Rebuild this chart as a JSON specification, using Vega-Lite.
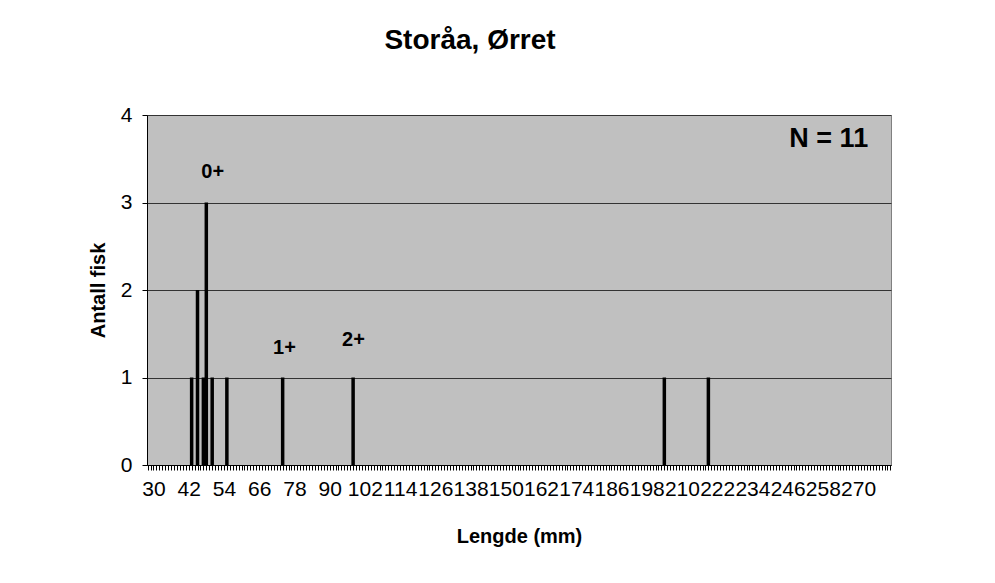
{
  "$schema": "https://vega.github.io/schema/vega-lite/v6.json",
  "width": 744,
  "height": 350,
  "autosize": {"type": "none"},
  "padding": {"left": 147, "top": 115, "right": 104, "bottom": 118},
  "background": "white",
  "config": {
    "font": "Liberation Sans",
    "view": {"fill": "#C0C0C0", "stroke": "#808080", "strokeWidth": 1}
  },
  "title": {
    "text": "Storåa, Ørret",
    "fontSize": 28,
    "fontWeight": "bold",
    "color": "black",
    "font": "Liberation Sans",
    "anchor": "middle",
    "frame": "group",
    "dx": -49,
    "offset": 49
  },
  "datasets": {
    "fish": [
      {"lengde": 43, "antall": 1},
      {"lengde": 45, "antall": 2},
      {"lengde": 47, "antall": 1},
      {"lengde": 48, "antall": 3},
      {"lengde": 50, "antall": 1},
      {"lengde": 55, "antall": 1},
      {"lengde": 74, "antall": 1},
      {"lengde": 98, "antall": 1},
      {"lengde": 204, "antall": 1},
      {"lengde": 219, "antall": 1}
    ],
    "ages": [
      {"x": 50.2, "y": 3.35, "label": "0+"},
      {"x": 74.6, "y": 1.34, "label": "1+"},
      {"x": 98.1, "y": 1.43, "label": "2+"}
    ],
    "count": [
      {"x": 260, "y": 3.73, "label": "N = 11"}
    ]
  },
  "layer": [
    {
      "data": {"name": "fish"},
      "mark": {"type": "bar", "width": 3.5, "color": "black"},
      "encoding": {
        "x": {
          "field": "lengde",
          "type": "quantitative",
          "scale": {"domain": [29.5, 279.5], "nice": false, "zero": false},
          "axis": {
            "title": "Lengde (mm)",
            "titleFontSize": 20,
            "titleFontWeight": "bold",
            "titleColor": "black",
            "titlePadding": 27,
            "tickCount": 250,
            "labelExpr": "(datum.value - 30) % 12 === 0 ? datum.label : ''",
            "labelOverlap": false,
            "labelBound": false,
            "labelFlush": false,
            "labelFontSize": 21,
            "labelColor": "black",
            "labelPadding": 8,
            "tickSize": 5,
            "tickColor": "black",
            "domainColor": "black",
            "grid": false
          }
        },
        "y": {
          "field": "antall",
          "type": "quantitative",
          "scale": {"domain": [0, 4], "nice": false},
          "axis": {
            "title": "Antall fisk",
            "titleFontSize": 20,
            "titleFontWeight": "bold",
            "titleColor": "black",
            "titlePadding": 12,
            "values": [0, 1, 2, 3, 4],
            "format": "d",
            "labelFontSize": 21,
            "labelColor": "black",
            "labelPadding": 10,
            "tickSize": 5,
            "tickColor": "black",
            "domainColor": "black",
            "grid": true,
            "gridColor": "#333333",
            "gridOpacity": 1,
            "gridWidth": 1
          }
        }
      }
    },
    {
      "data": {"name": "ages"},
      "mark": {"type": "text", "fontSize": 20, "fontWeight": "bold", "color": "black", "align": "center", "baseline": "middle"},
      "encoding": {
        "x": {"field": "x", "type": "quantitative"},
        "y": {"field": "y", "type": "quantitative"},
        "text": {"field": "label"}
      }
    },
    {
      "data": {"name": "count"},
      "mark": {"type": "text", "fontSize": 27, "fontWeight": "bold", "color": "black", "align": "center", "baseline": "middle"},
      "encoding": {
        "x": {"field": "x", "type": "quantitative"},
        "y": {"field": "y", "type": "quantitative"},
        "text": {"field": "label"}
      }
    }
  ]
}
